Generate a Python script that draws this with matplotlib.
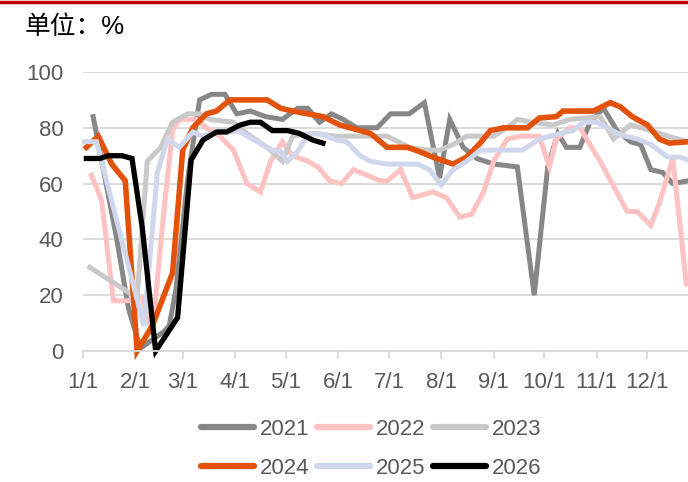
import numpy as np
import matplotlib
matplotlib.use("Agg")
import matplotlib.pyplot as plt
from matplotlib.lines import Line2D

plt.rcParams['font.family'] = ['Liberation Sans', 'Noto Sans CJK SC', 'DejaVu Sans']
plt.rcParams['axes.unicode_minus'] = False

# x 轴：一年中的第几天（1/1 = 0）
month_days = [0, 31, 59, 90, 120, 151, 181, 212, 243, 273, 304, 334]
month_labels = ["1/1", "2/1", "3/1", "4/1", "5/1", "6/1", "7/1", "8/1", "9/1", "10/1", "11/1", "12/1"]

d2021 = [6, 13, 20, 27, 34, 41, 48, 51, 55, 62, 69, 76, 84, 91, 99, 108, 118, 127, 133, 140,
         147, 154, 162, 174, 182, 193, 202, 211, 217, 225, 233, 243, 257, 267, 275, 281, 286,
         294, 300, 308, 316, 324, 330, 336, 343, 349, 358]
v2021 = [84, 62, 40, 15, 1, 4, 7, 9, 22, 62, 90, 92, 92, 85, 86, 84, 83, 87, 87, 82,
         85, 83, 80, 80, 85, 85, 89, 62, 83, 73, 69, 67, 66, 20, 66, 78, 73,
         73, 82, 87, 79, 75, 74, 65, 64, 60, 61]

d2022 = [5, 11, 18, 27, 35, 41, 47, 53, 57, 67, 73, 81, 89, 97, 105, 111, 118, 124, 133, 139,
         146, 153, 160, 168, 176, 180, 188, 195, 207, 215, 223, 230, 237, 243, 251, 259, 270,
         276, 280, 288, 294, 306, 314, 322, 328, 336, 341, 349, 357]
v2022 = [63, 54, 18, 18, 19, 6, 45, 79, 83, 83, 80, 77, 72, 60, 57, 68, 75, 70, 68, 66,
         61, 60, 65, 63, 61, 61, 65, 55, 57, 55, 48, 49, 57, 68, 76, 77, 77,
         66, 76, 80, 80, 68, 59, 50, 50, 45, 53, 69, 24]

d2023 = [4, 27, 32, 38, 46, 53, 62, 69, 75, 89, 97, 111, 118, 124, 136, 150, 180, 193, 204,
         211, 219, 227, 243, 251, 257, 266, 278, 288, 306, 314, 324, 336, 346, 358]
v2023 = [30, 21, 19, 68, 73, 82, 85, 85, 83, 82, 78, 72, 68, 77, 78, 77, 77, 73, 72,
         72, 74, 77, 77, 80, 83, 82, 81, 83, 84, 76, 81, 79, 77, 75]

d2024 = [2, 9, 17, 25, 30, 32, 41, 53, 59, 65, 73, 79, 87, 109, 117, 124, 142, 152, 170, 180,
         192, 199, 207, 219, 227, 235, 241, 249, 263, 270, 280, 284, 302, 312, 318, 325, 334,
         341, 347, 358]
v2024 = [73, 77, 67, 61, 18, 0, 9, 28, 72, 80, 85, 86, 90, 90, 87, 86, 84, 81, 78, 73,
         73, 71.5, 69.5, 67, 69.5, 74.5, 79, 80, 80, 83.5, 84, 86, 86, 89, 87.5, 84, 81,
         76, 74.5, 75]

d2025 = [1, 8, 36, 44, 50, 57, 65, 71, 83, 93, 103, 112, 117, 121, 127, 133, 140, 150, 156,
         164, 170, 180, 198, 205, 212, 219, 227, 235, 260, 270, 286, 290, 296, 304, 318, 328,
         336, 346, 353, 358]
v2025 = [75, 75, 9, 64, 76, 73, 78.5, 77, 79, 78.5, 75, 72, 71.5, 68, 71.5, 77.5, 78, 75.6, 75,
         70, 68, 67, 67, 65, 59.5, 65, 68, 72, 72, 76, 78.5, 79, 82, 82, 77.5, 76,
         74, 69.5, 69.5, 68.5]

d2026 = [2, 10, 15, 23, 29, 35, 43, 56, 64, 71, 79, 85, 93, 99, 105, 112, 121, 128, 136, 142]
v2026 = [69, 69, 70, 70, 69, 44.5, 0, 12, 68.5, 75.6, 78.5, 78.5, 81, 82, 82, 79, 79, 78, 75.6, 74.5]

series = [
    ("2021", d2021, v2021, "#878787", 3.6),
    ("2022", d2022, v2022, "#FFC2C2", 3.6),
    ("2023", d2023, v2023, "#C9C9C9", 3.6),
    ("2024", d2024, v2024, "#E2520A", 4.0),
    ("2025", d2025, v2025, "#D0D7EC", 3.6),
    ("2026", d2026, v2026, "#000000", 3.8),
]

fig = plt.figure(figsize=(6.88, 4.82), dpi=100)
ax = fig.add_axes([83 / 688, 131 / 482, 605 / 688, 279 / 482])

lines = []
for name, d, v, c, lw in series:
    ln, = ax.plot(d, v, color=c, lw=lw, label=name, clip_on=False, solid_joinstyle="miter")
    lines.append(ln)

ax.set_xlim(0, 358)
ax.set_ylim(0, 100)
ax.set_yticks([0, 20, 40, 60, 80, 100])
ax.set_xticks(month_days)
ax.set_xticklabels(month_labels)
ax.grid(axis="y", color="#D9D9D9", lw=1.3)
ax.set_axisbelow(True)
for s in ["top", "right", "left"]:
    ax.spines[s].set_visible(False)
ax.spines["bottom"].set_color("#D9D9D9")
ax.spines["bottom"].set_linewidth(1.3)
ax.tick_params(axis="x", direction="out", length=6, width=1.3, color="#D9D9D9",
               labelsize=16, labelcolor="#595959", pad=9)
ax.tick_params(axis="y", length=0, labelsize=16, labelcolor="#595959", pad=14)

# 顶部红线
fig.add_artist(Line2D([0, 1], [1 - 2 / 482, 1 - 2 / 482], color="#C00000", lw=2.5,
                      transform=fig.transFigure))
fig.text(25 / 688, 1 - 27 / 482, "单位：%", fontsize=18.5, va="center", ha="left",
         color="#000000")

# 图例按行排列：matplotlib 按列填充，所以重新排序
order = [0, 3, 1, 4, 2, 5]
leg = fig.legend([lines[i] for i in order], [series[i][0] for i in order],
                 loc="center", bbox_to_anchor=(371 / 688, 33 / 482), ncol=3, frameon=False,
                 fontsize=16, handlelength=2.4, handletextpad=0.25, columnspacing=0.35,
                 labelspacing=0.8)
for t in leg.get_texts():
    t.set_color("#595959")
for h in leg.legend_handles:
    h.set_linewidth(4.5)
    h.set_solid_capstyle("round")

fig.savefig("out.png", dpi=100)
